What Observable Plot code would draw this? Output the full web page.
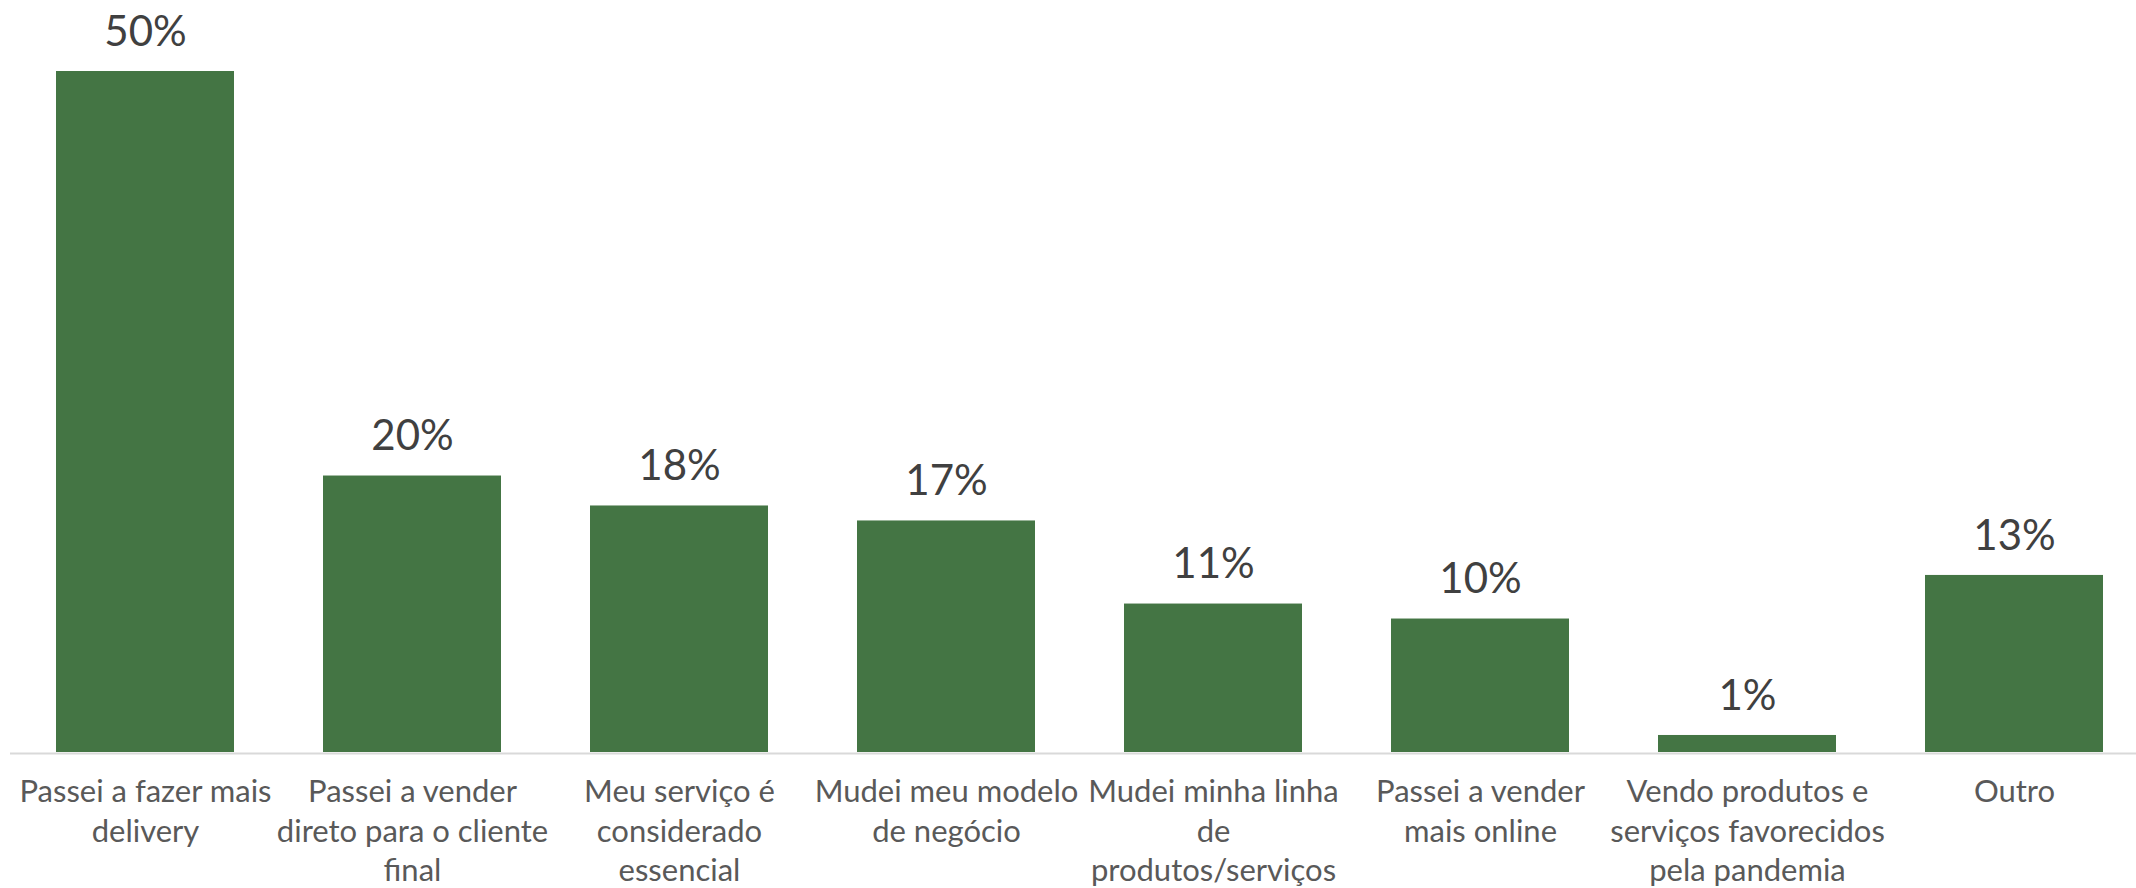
<!DOCTYPE html>
<html>
<head>
<meta charset="utf-8">
<script src="https://cdn.jsdelivr.net/npm/d3@7"></script>
<script src="https://cdn.jsdelivr.net/npm/@observablehq/plot@0.6"></script>
<style>
  html, body { margin: 0; padding: 0; background: #ffffff; }
  #chart svg { display: block; }
</style>
</head>
<body>
<div id="chart"></div>
<script>
// Categories (full names)
const categories = [
  "Passei a fazer mais delivery",
  "Passei a vender direto para o cliente final",
  "Meu serviço é considerado essencial",
  "Mudei meu modelo de negócio",
  "Mudei minha linha de produtos/serviços",
  "Passei a vender mais online",
  "Vendo produtos e serviços favorecidos pela pandemia",
  "Outro"
];
// Category tick labels as wrapped in the reference
const tickLabels = [
  "Passei a fazer mais\ndelivery",
  "Passei a vender\ndireto para o cliente\nfinal",
  "Meu serviço é\nconsiderado\nessencial",
  "Mudei meu modelo\nde negócio",
  "Mudei minha linha\nde\nprodutos/serviços",
  "Passei a vender\nmais online",
  "Vendo produtos e\nserviços favorecidos\npela pandemia",
  "Outro"
];
// Series values (percent)
const values = [50, 20.3, 18.1, 17.0, 10.9, 9.8, 1.25, 13.0];
// Data labels as printed
const valueLabels = ["50%", "20%", "18%", "17%", "11%", "10%", "1%", "13%"];

const data = categories.map((c, i) => ({
  category: c,
  value: values[i],
  label: valueLabels[i],
  tick: tickLabels[i]
}));

const chart = Plot.plot({
  width: 2136,
  height: 888,
  marginTop: 71,
  marginBottom: 136,
  marginLeft: 10,
  marginRight: 0,
  style: { fontFamily: "Lato, 'Open Sans', sans-serif", background: "#ffffff" },
  x: {
    domain: categories,
    range: [10.35, 2148.65],
    paddingInner: 0.334,
    paddingOuter: 0.167,
    axis: null
  },
  y: { domain: [0, 50], axis: null },
  marks: [
    Plot.barY(data, { x: "category", y: "value", fill: "#447544" }),
    Plot.ruleY([0], { stroke: "#d9d9d9", strokeWidth: 2, dy: 1 }),
    Plot.text(data, {
      x: "category",
      y: "value",
      text: "label",
      fill: "#404040",
      fontSize: 42,
      lineAnchor: "middle",
      dy: -39
    }),
    Plot.text(data, {
      x: "category",
      y: () => 0,
      text: "tick",
      fill: "#595959",
      fontSize: 31,
      lineAnchor: "top",
      lineHeight: 1.27,
      dy: 22
    })
  ]
});
document.getElementById("chart").appendChild(chart);
</script>
</body>
</html>
